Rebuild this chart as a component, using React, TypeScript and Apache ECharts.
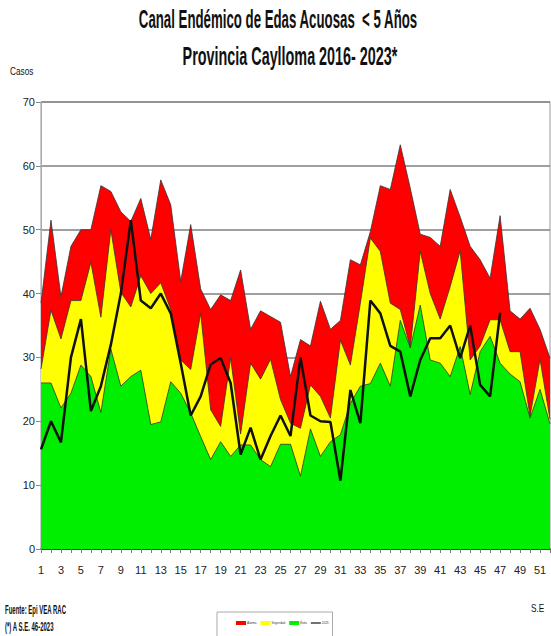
import React, { useEffect, useRef } from "react";
import * as echarts from "echarts";

const weeks: string[] = Array.from({ length: 52 }, (_, i) => String(i + 1));

const alarma: number[] = [38.5, 51.5, 39.5, 47.4, 50, 50, 56.9, 56, 52.8, 51.3, 54.9, 48.5, 57.8, 53.9, 41.9, 50.8, 40.7, 37.5, 39.8, 38.9, 43.7, 34.4, 37.3, 36.4, 35.5, 27, 32.8, 31.8, 38.8, 34.4, 35.8, 45.3, 44.5, 49.7, 56.9, 56.3, 63.3, 56.5, 49.3, 48.8, 47.4, 56.3, 52, 47.4, 45.3, 42.4, 52.2, 37.3, 36, 37.7, 34.4, 29.9];

const seguridad: number[] = [28.2, 37.4, 32.9, 38.9, 38.9, 44.9, 36.3, 50, 40.2, 37.9, 42.8, 40, 41.7, 37.5, 29.6, 28.1, 36.9, 21.8, 19.2, 29.9, 18, 29.1, 26.6, 29.7, 23.4, 19.7, 18.9, 25.7, 23.9, 20.5, 32.7, 28.8, 38.5, 48.7, 46.6, 38.5, 37.5, 31.6, 46.6, 40, 36, 41.1, 46.7, 29.6, 31.8, 35.9, 35.9, 30.9, 30.9, 20.8, 29.7, 20.3];

const exito: number[] = [26, 26, 22.1, 24.4, 28.8, 27, 21.4, 31.3, 25.5, 27, 28, 19.5, 19.9, 26.2, 24.4, 21.3, 17.6, 14, 16.8, 14.5, 16.3, 16.3, 14, 12.9, 16.4, 16.4, 11.4, 18.8, 14.5, 16.8, 17.9, 22.8, 25.5, 25.9, 29.1, 25.5, 35.8, 31.5, 38.2, 29.6, 29.1, 27, 31.7, 24.2, 30.9, 33.3, 29.1, 27.4, 26.2, 20.5, 25, 19.6];

const casos2023: number[] = [15.6, 20, 16.7, 30, 36, 21.6, 25.5, 32, 40, 51.5, 38.9, 37.7, 40, 36.9, 29.1, 20.9, 23.9, 28.9, 29.9, 26, 14.8, 19, 14, 17.7, 20.9, 17.7, 30, 20.9, 20, 19.9, 10.7, 24.9, 19.7, 38.9, 36.9, 31.8, 30.9, 23.9, 29.6, 33, 33, 35, 29.9, 35, 25.7, 23.9, 37];

const titleLine1 = "Canal Endémico de Edas Acuosas  < 5 Años";
const titleLine2 = "Provincia Caylloma 2016- 2023*";

const FONT = "'Liberation Sans', Arial, sans-serif";

export default function App() {
  const ref = useRef<HTMLDivElement>(null);
  useEffect(() => {
    if (!ref.current) return;
    const chart = echarts.init(ref.current, null, { renderer: "svg" });
    const areaSeries = (name: string, data: number[], color: string) => ({
      name,
      type: "line",
      data,
      symbol: "none",
      z: 2,
      lineStyle: { color: "#333", width: 0.8 },
      itemStyle: { color },
      areaStyle: { color, opacity: 1 },
    });
    const narrowText = (text: string, x: number, y: number, size: number, bold: boolean, sx: number, align: string) => ({
      type: "text",
      x,
      y,
      scaleX: sx,
      style: {
        text,
        fontSize: size,
        fontWeight: bold ? "bold" : "normal",
        fontFamily: FONT,
        fill: "#111",
        textAlign: align,
        textVerticalAlign: "middle",
      },
    });
    chart.setOption({
      animation: false,
      backgroundColor: "#fff",
      textStyle: { fontFamily: FONT },
      legend: {
        left: 217,
        top: 612,
        orient: "horizontal",
        padding: [9, 4, 14, 19],
        borderColor: "#aaa",
        borderWidth: 1,
        itemGap: 4,
        itemWidth: 10,
        itemHeight: 4,
        textStyle: { fontSize: 3, color: "#333", fontFamily: FONT, padding: [0, 0, 0, -4] },
        data: [
          { name: "Alarma", icon: "rect" },
          { name: "Seguridad", icon: "rect" },
          { name: "Éxito", icon: "rect" },
          { name: "2023", icon: "path://M0,0L10,0L10,1.2L0,1.2Z" },
        ],
      },
      grid: {
        left: 41,
        right: 1,
        top: 102,
        bottom: 87,
        show: true,
        borderColor: "#999",
        borderWidth: 1,
        backgroundColor: "transparent",
      },
      xAxis: {
        type: "category",
        data: weeks,
        boundaryGap: false,
        axisLine: { lineStyle: { color: "#222", width: 1.5 } },
        axisTick: { show: true, interval: 0, length: 4, lineStyle: { color: "#777" } },
        axisLabel: { interval: 1, fontSize: 11, color: "#222", margin: 15, fontFamily: FONT },
        splitLine: { show: false },
      },
      yAxis: {
        type: "value",
        min: 0,
        max: 70,
        interval: 10,
        axisLine: { show: true, lineStyle: { color: "#aaa", width: 1 } },
        axisTick: { show: true, length: 5, lineStyle: { color: "#888" } },
        axisLabel: { fontSize: 11, color: "#222", margin: 6, fontFamily: FONT },
        splitLine: { show: true, lineStyle: { color: "#808080", width: 1.5 } },
      },
      series: [
        areaSeries("Alarma", alarma, "#ff0000"),
        areaSeries("Seguridad", seguridad, "#ffff00"),
        areaSeries("Éxito", exito, "#00ee00"),
        {
          name: "2023",
          type: "line",
          data: casos2023,
          symbol: "none",
          z: 5,
          itemStyle: { color: "#111" },
          lineStyle: { color: "#111", width: 2.5 },
        },
      ],
      graphic: [
        narrowText(titleLine1, 278, 19, 25, true, 0.53, "center"),
        narrowText(titleLine2, 290, 56, 25, true, 0.575, "center"),
        narrowText("Casos", 10, 71, 11, false, 0.75, "left"),
        narrowText("S.E", 531, 608, 11, false, 0.75, "left"),
        narrowText("Fuente: Epi VEA RAC", 5, 610, 12, true, 0.5, "left"),
        narrowText("(*) A S.E. 46-2023", 5, 627, 12, true, 0.5, "left"),
      ],
    });
    return () => chart.dispose();
  }, []);
  return <div ref={ref} style={{ position: "fixed", left: 0, top: 0, width: 551, height: 636 }} />;
}
